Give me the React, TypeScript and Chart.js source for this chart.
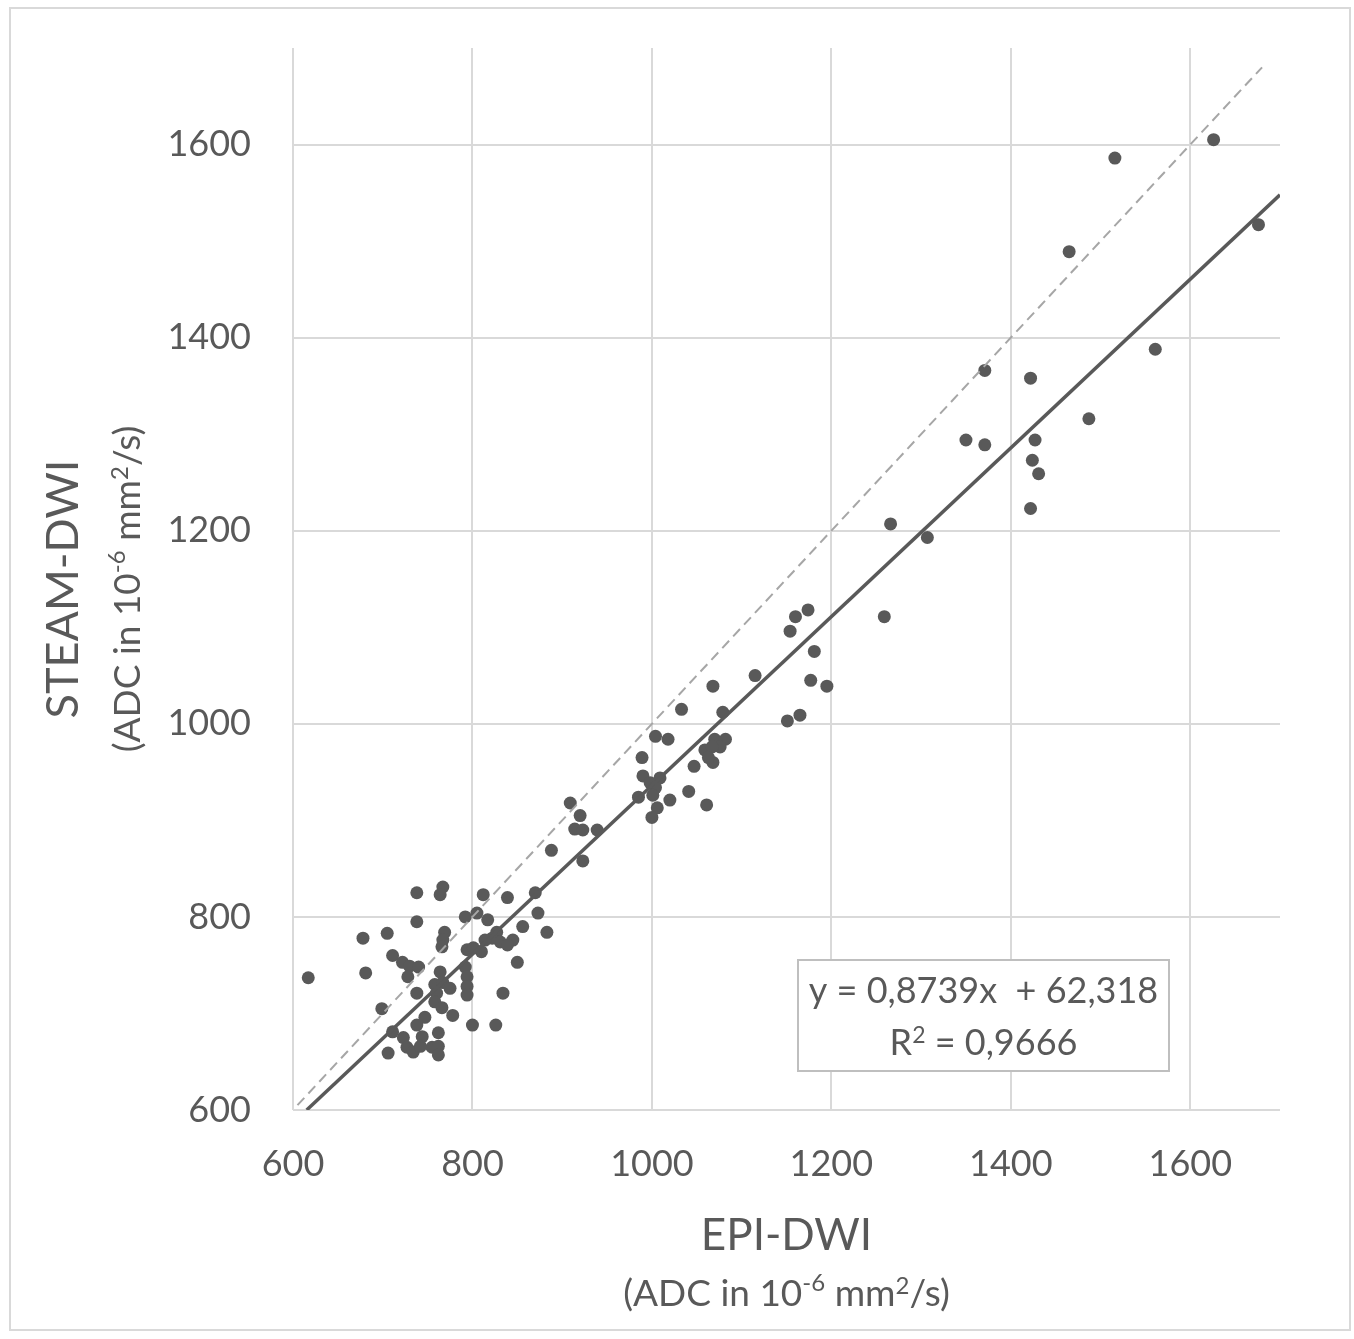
import React, { useEffect, useRef } from 'react';
import { Chart, registerables } from 'chart.js';

Chart.register(...registerables);

// EPI-DWI ADC (x) and STEAM-DWI ADC (y), in 10^-6 mm²/s
const epiAdc = [
  1626, 1516, 1676, 1465, 1561, 1371, 1422, 1487, 1350, 1371, 1427, 1424, 1431, 1422, 1266, 1307, 1259,
  1174, 1160, 1154, 1181, 1115, 1177, 1195, 1165, 1151, 1068, 1033, 1079, 1004, 1018, 989,
  1070, 1082, 1076, 1059, 1067, 1068, 1047, 1063,
  990, 1009, 998, 1004, 1001, 985, 1020, 1041, 1006, 1061, 1000,
  909, 920, 914, 923, 939, 888, 923, 870, 873, 883, 856,
  767, 764, 738, 812, 839, 738, 792, 805, 817, 769, 767, 766, 827, 822, 814, 831, 845, 839,
  794, 801, 810, 850, 711, 722, 730, 740, 681, 728, 764, 792, 794,
  758, 767, 775, 760, 738, 794, 794, 834,
  699, 758, 766, 778, 747, 738, 800, 826, 711, 762, 744, 723, 727, 734, 742, 755, 762, 706, 762,
  617, 678, 705,
];
const steamAdc = [
  1605, 1586, 1517, 1489, 1388, 1366, 1358, 1316, 1294, 1289, 1294, 1273, 1259, 1223, 1207, 1193, 1111,
  1118, 1111, 1096, 1075, 1050, 1045, 1039, 1009, 1003, 1039, 1015, 1012, 987, 984, 965,
  984, 984, 976, 973, 976, 960, 956, 965,
  946, 944, 939, 934, 926, 924, 921, 930, 913, 916, 903,
  918, 905, 891, 890, 890, 869, 858, 825, 804, 784, 790,
  831, 823, 825, 823, 820, 795, 800, 804, 797, 784, 776, 769, 784, 778, 776, 774, 776, 771,
  766, 768, 764, 753, 760, 753, 749, 748, 742, 738, 743, 748, 738,
  730, 732, 726, 721, 721, 728, 719, 721,
  705, 712, 706, 698, 696, 688, 688, 688, 681, 680, 676, 675, 665, 660, 666, 665, 666, 659, 657,
  737, 778, 783,
];

const tickValues = [600, 800, 1000, 1200, 1400, 1600];
const axisMin = 600;
const axisMax = 1700;

const slope = 0.8739;
const intercept = 62.318;
const trendX = [615.3, 1700];
const identityX = [605, 1680];

const equationLine = 'y = 0,8739x  + 62,318';
const r2Value = ' = 0,9666';

const FONT = 'Lato, "Open Sans", sans-serif';
const TEXT = '#595959';
const GRID = '#d9d9d9';

type Run = { text: string; size: number; dy?: number };

function drawRuns(ctx: CanvasRenderingContext2D, runs: Run[], cx: number, baseline: number) {
  let total = 0;
  const widths = runs.map((r) => {
    ctx.font = `${r.size}px ${FONT}`;
    const w = ctx.measureText(r.text).width;
    total += w;
    return w;
  });
  let x = cx - total / 2;
  ctx.textAlign = 'left';
  ctx.textBaseline = 'alphabetic';
  runs.forEach((r, i) => {
    ctx.font = `${r.size}px ${FONT}`;
    ctx.fillText(r.text, x, baseline + (r.dy || 0));
    x += widths[i];
  });
}

const unitRuns: Run[] = [
  { text: '(ADC in 10', size: 37 },
  { text: '-6', size: 24, dy: -15 },
  { text: ' mm', size: 37 },
  { text: '2', size: 24, dy: -12 },
  { text: '/s)', size: 37 },
];

const annotations = {
  id: 'annotations',
  beforeDraw(chart: any) {
    const ctx = chart.ctx as CanvasRenderingContext2D;
    ctx.save();
    ctx.fillStyle = '#ffffff';
    ctx.fillRect(0, 0, chart.width, chart.height);
    ctx.strokeStyle = GRID;
    ctx.lineWidth = 2;
    ctx.strokeRect(10, 8, 1340, 1322);
    ctx.restore();
  },
  afterDraw(chart: any) {
    const ctx = chart.ctx as CanvasRenderingContext2D;
    const area = chart.chartArea;
    const cx = (area.left + area.right) / 2;
    const cy = 589;
    ctx.save();
    ctx.fillStyle = TEXT;

    // x-axis titles
    drawRuns(ctx, [{ text: 'EPI-DWI', size: 44 }], cx, 1250);
    drawRuns(ctx, unitRuns, cx, 1306);

    // y-axis titles (rotated)
    ctx.save();
    ctx.translate(78, cy);
    ctx.rotate(-Math.PI / 2);
    drawRuns(ctx, [{ text: 'STEAM-DWI', size: 45 }], 0, 0);
    ctx.restore();
    ctx.save();
    ctx.translate(140, cy);
    ctx.rotate(-Math.PI / 2);
    drawRuns(ctx, unitRuns, 0, 0);
    ctx.restore();

    // equation box
    const bx = 798, by = 960, bw = 371, bh = 111;
    ctx.fillStyle = '#ffffff';
    ctx.fillRect(bx, by, bw, bh);
    ctx.strokeStyle = '#bfbfbf';
    ctx.lineWidth = 2;
    ctx.strokeRect(bx, by, bw, bh);
    ctx.fillStyle = TEXT;
    const bcx = bx + bw / 2;
    drawRuns(ctx, [{ text: equationLine, size: 36 }], bcx, 1003);
    drawRuns(
      ctx,
      [
        { text: 'R', size: 36 },
        { text: '2', size: 23, dy: -12 },
        { text: r2Value, size: 36 },
      ],
      bcx,
      1055
    );
    ctx.restore();
  },
};

export default function App() {
  const ref = useRef<HTMLCanvasElement | null>(null);

  useEffect(() => {
    if (!ref.current) return;
    const points = epiAdc.map((x, i) => ({ x, y: steamAdc[i] }));
    const trend = trendX.map((x) => ({ x, y: slope * x + intercept }));
    const identity = identityX.map((x) => ({ x, y: x }));

    const axisCommon = {
      type: 'linear' as const,
      min: axisMin,
      max: axisMax,
      afterBuildTicks: (s: any) => {
        s.ticks = tickValues.map((v) => ({ value: v }));
      },
      grid: { color: GRID, lineWidth: 2, drawTicks: false },
      border: { display: false },
    };

    const chart = new Chart(ref.current, {
      type: 'scatter',
      data: {
        datasets: [
          {
            label: 'Trend',
            data: trend,
            showLine: true,
            borderColor: '#595959',
            borderWidth: 3.5,
            pointRadius: 0,
            order: 0,
          },
          {
            label: 'Identity',
            data: identity,
            showLine: true,
            borderColor: '#a6a6a6',
            borderWidth: 2,
            borderDash: [10, 6],
            pointRadius: 0,
            order: 1,
          },
          {
            label: 'ADC',
            data: points,
            backgroundColor: '#595959',
            borderWidth: 0,
            pointRadius: 6.5,
            order: 2,
          },
        ],
      },
      options: {
        animation: false,
        responsive: false,
        layout: { autoPadding: false, padding: { top: 48, right: 74, left: 0, bottom: 0 } },
        plugins: { legend: { display: false }, tooltip: { enabled: false } },
        scales: {
          x: {
            ...axisCommon,
            afterFit: (s: any) => {
              s.height = 229;
              s.paddingLeft = 0;
              s.paddingRight = 0;
            },
            ticks: {
              font: { family: FONT, size: 36 },
              color: TEXT,
              padding: 33,
              callback: (v: any) => String(v),
            },
          },
          y: {
            ...axisCommon,
            afterFit: (s: any) => {
              s.width = 293;
              s.paddingTop = 0;
              s.paddingBottom = 0;
            },
            ticks: {
              font: { family: FONT, size: 36 },
              color: TEXT,
              padding: 42,
              callback: (v: any) => String(v),
            },
          },
        },
      },
      plugins: [annotations],
    });
    return () => chart.destroy();
  }, []);

  return (
    <div style={{ position: 'absolute', left: 0, top: 0, width: 1354, height: 1339 }}>
      <canvas ref={ref} width={1354} height={1339} />
    </div>
  );
}
